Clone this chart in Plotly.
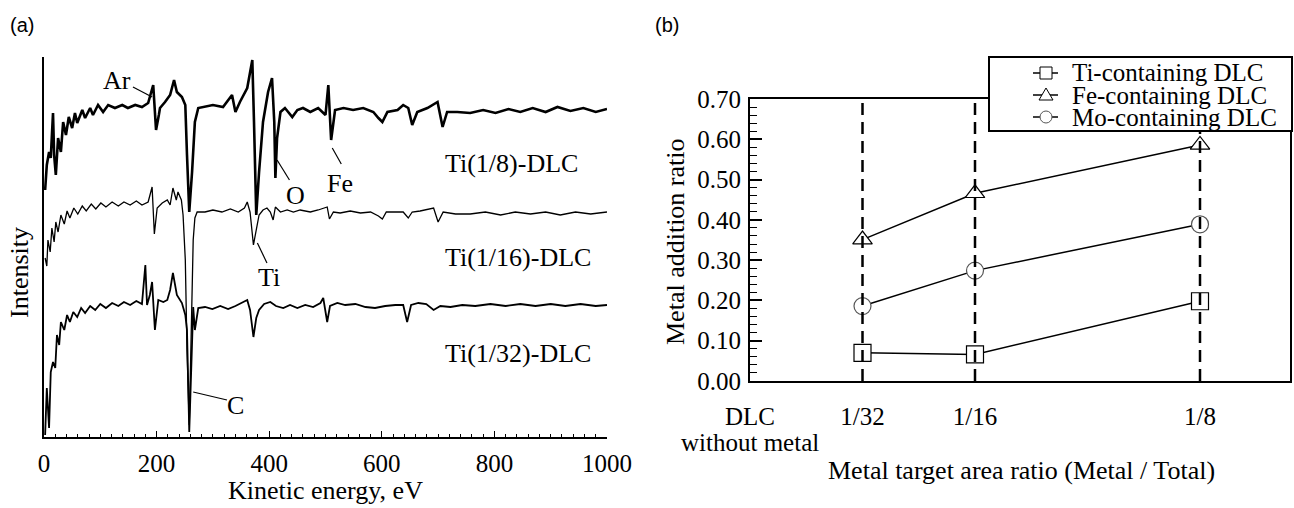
import plotly.graph_objects as go

W, H = 1294, 508
SERIF = "Liberation Serif"
SANS = "Liberation Sans"

# ---------------- (a) Auger spectra (kinetic energy in eV, intensity in a.u.) ----------------
energy_ti8 = [2, 5, 9, 12, 16, 18, 21, 25, 30, 34, 39, 44, 50, 55, 59, 68, 73, 82, 87, 96,
              105, 114, 126, 139, 149, 162, 174, 185, 194, 199, 204, 206, 215, 224, 231, 236,
              245, 251, 254, 258, 263, 268, 274, 283, 300, 318, 334, 340, 348, 361, 370, 373,
              377, 382, 389, 398, 405, 409, 411, 414, 420, 428, 441, 450, 460, 473, 487, 500,
              505, 510, 517, 532, 549, 567, 585, 594, 601, 610, 628, 638, 647, 654, 663, 681,
              699, 708, 716, 734, 757, 780, 802, 825, 846, 868, 891, 912, 935, 958, 980, 1000]
intensity_ti8 = [247, 272, 285, 279, 324, 282, 262, 299, 285, 315, 302, 320, 309, 324, 314, 327,
                 319, 329, 322, 332, 325, 332, 329, 332, 329, 332, 330, 334, 352, 307, 322, 329,
                 335, 342, 357, 345, 340, 332, 282, 225, 265, 315, 329, 330, 332, 330, 342, 325,
                 335, 349, 377, 315, 222, 265, 315, 345, 359, 315, 259, 299, 325, 329, 320, 327,
                 329, 325, 329, 322, 352, 297, 327, 329, 327, 329, 325, 319, 315, 325, 327, 332,
                 329, 312, 325, 329, 335, 310, 325, 325, 324, 327, 324, 328, 325, 329, 325, 330,
                 326, 329, 325, 328]

energy_ti16 = [2, 5, 7, 11, 14, 18, 21, 25, 30, 36, 41, 46, 53, 60, 68, 75, 84, 92, 101, 110,
               121, 132, 142, 153, 164, 174, 185, 192, 196, 201, 210, 219, 224, 229, 235, 238,
               244, 247, 251, 254, 258, 261, 265, 268, 272, 286, 300, 316, 331, 345, 356, 361,
               366, 372, 377, 382, 389, 396, 402, 407, 411, 420, 432, 443, 455, 473, 487, 503,
               507, 514, 526, 544, 562, 580, 594, 601, 608, 624, 638, 647, 654, 668, 692, 700,
               709, 731, 757, 784, 811, 837, 864, 891, 917, 944, 971, 1000]
intensity_ti16 = [179, 171, 197, 185, 209, 195, 215, 205, 222, 213, 226, 219, 229, 223, 231, 226,
                  233, 228, 234, 230, 235, 231, 235, 232, 236, 232, 235, 250, 203, 229, 234, 237,
                  232, 249, 237, 245, 237, 222, 177, 87, 12, 107, 197, 219, 225, 225, 227, 225,
                  228, 225, 229, 235, 225, 192, 209, 222, 227, 229, 225, 217, 230, 225, 227, 225,
                  227, 225, 227, 230, 218, 225, 224, 226, 224, 225, 221, 218, 225, 225, 225, 219,
                  225, 226, 229, 215, 225, 223, 223, 225, 222, 225, 223, 225, 222, 225, 223, 225]

energy_ti32 = [2, 5, 9, 12, 16, 20, 23, 27, 30, 36, 41, 46, 52, 59, 66, 73, 82, 91, 100, 110,
               121, 132, 142, 153, 164, 174, 180, 183, 188, 192, 197, 203, 212, 219, 224, 229,
               236, 245, 251, 254, 258, 261, 265, 268, 274, 286, 299, 313, 327, 340, 352, 361,
               366, 372, 377, 382, 391, 402, 412, 425, 437, 450, 464, 478, 491, 496, 503, 508,
               521, 535, 553, 571, 588, 606, 624, 638, 645, 652, 665, 679, 692, 704, 722, 743,
               766, 793, 820, 846, 873, 900, 926, 953, 980, 1000]
intensity_ti32 = [2, 49, 9, 65, 75, 69, 102, 92, 115, 107, 122, 115, 125, 120, 129, 124, 131, 127,
                  133, 129, 134, 131, 135, 132, 136, 133, 172, 132, 142, 155, 107, 137, 135, 137,
                  147, 164, 142, 134, 122, 107, 5, 57, 130, 107, 129, 130, 128, 131, 128, 131,
                  134, 137, 127, 100, 119, 127, 133, 135, 131, 129, 132, 129, 132, 130, 134, 139,
                  115, 131, 134, 132, 133, 130, 129, 131, 132, 132, 115, 132, 134, 133, 127, 131,
                  130, 132, 131, 133, 131, 133, 131, 133, 131, 133, 131, 132]

spectra = [
    ("Ti(1/8)-DLC", energy_ti8, intensity_ti8, 2.6),
    ("Ti(1/16)-DLC", energy_ti16, intensity_ti16, 1.3),
    ("Ti(1/32)-DLC", energy_ti32, intensity_ti32, 1.8),
]

# sample labels (energy, intensity) and peak labels with leader lines
sample_labels = [("Ti(1/8)-DLC", 708, 274), ("Ti(1/16)-DLC", 708, 180), ("Ti(1/32)-DLC", 709, 84)]
peak_labels = [
    # text, label x, label y, leader start (x, y), leader end (x, y)
    ("Ar", 130, 357, (158, 350), (192, 340)),
    ("O", 446, 242, (414, 277), (436, 257)),
    ("Fe", 526, 254, (512, 289), (528, 273)),
    ("Ti", 400, 160, (379, 194), (396, 174)),
    ("C", 341, 32, (265, 45), (325, 37)),
]

# ---------------- (b) metal addition ratio ----------------
target_ratio = [1 / 32, 1 / 16, 1 / 8]
ratio_ticks = [0, 1 / 32, 1 / 16, 1 / 8]
ratio_ticktext = ["DLC", "1/32", "1/16", "1/8"]
ti_dlc = [0.070, 0.066, 0.198]
fe_dlc = [0.351, 0.466, 0.586]
mo_dlc = [0.186, 0.274, 0.389]

series_b = [
    ("Ti-containing DLC", ti_dlc, "square", "black"),
    ("Fe-containing DLC", fe_dlc, "triangle-up", "black"),
    ("Mo-containing DLC", mo_dlc, "circle", "#555555"),
]


def px(x):
    return x / W


def py(y):
    return 1 - y / H


def label(text, x, y, size=26, family=SERIF, **kw):
    d = dict(text=text, x=x, y=y, xref="paper", yref="paper", showarrow=False,
             xanchor="center", yanchor="middle",
             font=dict(family=family, size=size, color="black"))
    d.update(kw)
    return d


fig = go.Figure()

for name, e, inten, lw in spectra:
    fig.add_trace(go.Scatter(x=e, y=inten, mode="lines", name=name,
                             line=dict(color="black", width=lw),
                             xaxis="x", yaxis="y", showlegend=False))

for name, vals, sym, mcol in series_b:
    fig.add_trace(go.Scatter(x=target_ratio, y=vals, mode="lines+markers", name=name,
                             line=dict(color="black", width=1.5),
                             marker=dict(symbol=sym, size=17, color="white",
                                         line=dict(color=mcol, width=1.2)),
                             xaxis="x2", yaxis="y2", showlegend=False))

shapes = []
annotations = []

# leader lines for peak labels
for txt, lx, ly, (x0, y0), (x1, y1) in peak_labels:
    shapes.append(dict(type="line", xref="x", yref="y", x0=x0, y0=y0, x1=x1, y1=y1,
                       line=dict(color="black", width=1.2)))
    annotations.append(label(txt, lx, ly, xref="x", yref="y"))
for txt, lx, ly in sample_labels:
    annotations.append(label(txt, lx, ly, xref="x", yref="y", xanchor="left"))

# dashed guides at each metal target area ratio
for r in target_ratio:
    shapes.append(dict(type="line", xref="x2", yref="y2 domain", x0=r, x1=r, y0=0, y1=1,
                       layer="above", line=dict(color="black", width=2.5, dash="12px,7px")))

# legend box for (b)
lx0, lx1, ly0, ly1 = 989, 1292, 57, 131
shapes.append(dict(type="rect", xref="paper", yref="paper", x0=px(lx0), x1=px(lx1),
                   y0=py(ly1), y1=py(ly0), fillcolor="white", layer="above",
                   line=dict(color="black", width=2)))
rows_y = [73, 95, 117]
for (name, vals, sym, mcol), ry in zip(series_b, rows_y):
    shapes.append(dict(type="line", xref="paper", yref="paper", x0=px(1033), x1=px(1058),
                       y0=py(ry), y1=py(ry), layer="above", line=dict(color="black", width=1.5)))
    cx, s = 1046, 6
    if sym == "square":
        shapes.append(dict(type="rect", xref="paper", yref="paper", x0=px(cx - s), x1=px(cx + s),
                           y0=py(ry + s), y1=py(ry - s), fillcolor="white", layer="above",
                           line=dict(color="black", width=1)))
    elif sym == "triangle-up":
        path = "M {} {} L {} {} L {} {} Z".format(px(cx - s - 1), py(ry + s - 1), px(cx + s + 1),
                                                 py(ry + s - 1), px(cx), py(ry - s - 1))
        shapes.append(dict(type="path", xref="paper", yref="paper", path=path,
                           fillcolor="white", layer="above", line=dict(color="black", width=1)))
    else:
        shapes.append(dict(type="circle", xref="paper", yref="paper", x0=px(cx - s), x1=px(cx + s),
                           y0=py(ry + s), y1=py(ry - s), fillcolor="white", layer="above",
                           line=dict(color=mcol, width=1)))
    annotations.append(label(name, px(1070), py(ry), size=25, xanchor="left"))

# axis titles, second line of the first category label, panel tags
annotations += [
    label("Kinetic energy, eV", px(325), py(490)),
    label("Intensity", px(19), py(273), textangle=-90),
    label("without metal", 0, py(442), size=25, xref="x2"),
    label("Metal target area ratio (Metal / Total)", px(1021), py(470)),
    label("Metal addition ratio", px(675), py(242), textangle=-90),
    label("(a)", px(22), py(25), size=20, family=SANS),
    label("(b)", px(667), py(25), size=20, family=SANS),
]

tickfont = dict(family=SERIF, size=25, color="black")

fig.update_layout(
    width=W, height=H, autosize=False,
    margin=dict(l=0, r=0, t=0, b=0, pad=0, autoexpand=False),
    paper_bgcolor="white", plot_bgcolor="white",
    showlegend=False,
    xaxis=dict(domain=[px(44), px(607)], range=[0, 1000], showgrid=False, zeroline=False,
               showline=True, linecolor="black", linewidth=2, ticks="inside", ticklen=6,
               tickwidth=1.2, tickcolor="black", dtick=200, tick0=0, tickfont=tickfont,
               ticklabelstandoff=3, automargin=False,
               minor=dict(dtick=20, ticks="inside", ticklen=3, tickwidth=1, tickcolor="black"),
               anchor="y"),
    yaxis=dict(domain=[py(437), py(57)], range=[0, 380], showgrid=False, zeroline=False,
               showline=True, linecolor="black", linewidth=2, showticklabels=False, ticks="",
               automargin=False, anchor="x"),
    xaxis2=dict(domain=[px(750), px(1290)], range=[0, 0.15], showgrid=False, zeroline=False,
                showline=True, mirror=True, linecolor="black", linewidth=2, ticks="",
                tickmode="array", tickvals=ratio_ticks, ticktext=ratio_ticktext,
                tickfont=tickfont, ticklabelstandoff=12, automargin=False, anchor="y2"),
    yaxis2=dict(domain=[py(381), py(99)], range=[0, 0.7], showgrid=False, zeroline=False,
                showline=True, mirror=True, linecolor="black", linewidth=2, ticks="inside",
                ticklen=12, tickwidth=1.5, tickcolor="black", dtick=0.1, tick0=0,
                tickformat=".2f", tickfont=tickfont, ticklabelstandoff=2, automargin=False,
                minor=dict(dtick=0.02, ticks="inside", ticklen=7, tickwidth=1.2,
                           tickcolor="black"),
                anchor="x2"),
    shapes=shapes,
    annotations=annotations,
)

fig.write_html("out.html", config={"responsive": False})
